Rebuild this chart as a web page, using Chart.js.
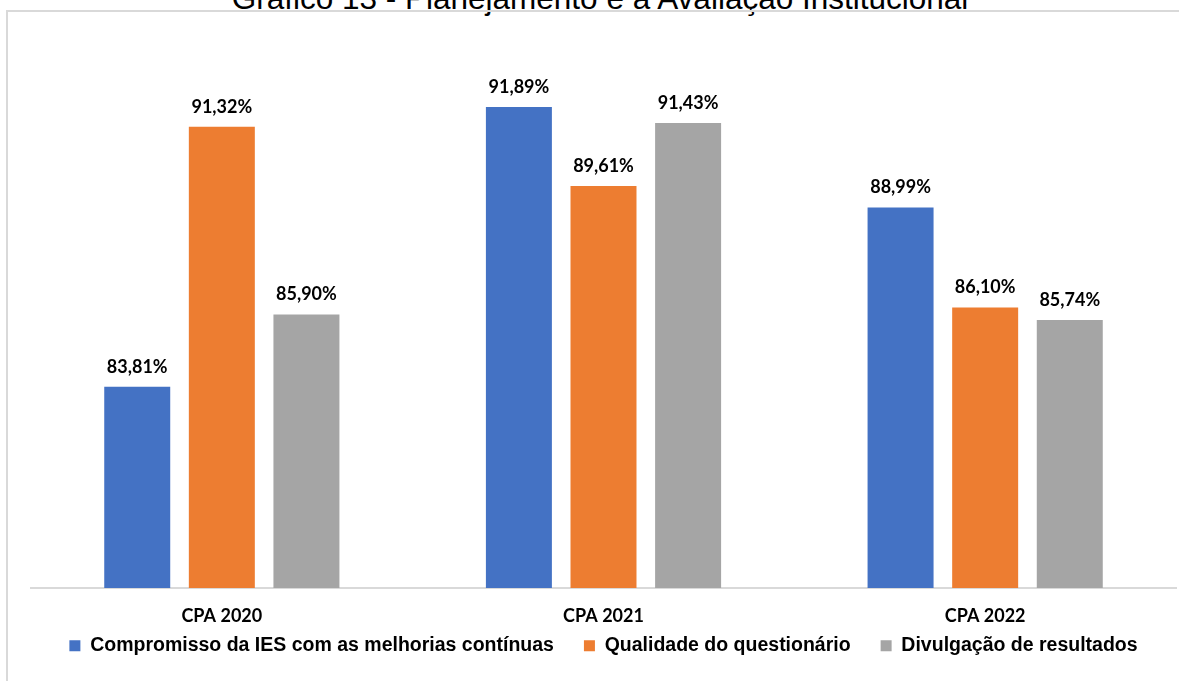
<!DOCTYPE html>
<html>
<head>
<meta charset="utf-8">
<script src="https://cdn.jsdelivr.net/npm/chart.js@4"></script>
<style>
  html, body { margin: 0; padding: 0; background: #fff; overflow: hidden; }
  #wrap { position: relative; width: 1186px; height: 681px; }
  #frame { position: absolute; left: 6px; top: 10px; width: 1171px; height: 700px;
           border-left: 2px solid #d9d9d9; border-top: 2px solid #d9d9d9; }
  #title { position: absolute; left: 7px; width: 1186px; top: -17px; text-align: center;
           font: 31.5px "Liberation Sans", Arial, sans-serif; line-height: 30px; color: #000; }
  canvas { position: absolute; left: 0; top: 0; }
</style>
</head>
<body>
<div id="wrap">
  <div id="title">Gráfico 13 - Planejamento e a Avaliação Institucional</div>
  <div id="frame"></div>
  <canvas id="chart" width="1186" height="681"></canvas>
</div>
<script>
// categories and series
const categories = ["CPA 2020", "CPA 2021", "CPA 2022"];
const compromisso = [83.81, 91.89, 88.99];
const qualidade = [91.32, 89.61, 86.10];
const divulgacao = [85.90, 91.43, 85.74];
const seriesNames = [
  "Compromisso da IES com as melhorias contínuas",
  "Qualidade do questionário",
  "Divulgação de resultados"
];

// value labels above each bar
const barLabels = {
  id: "barLabels",
  afterDatasetsDraw(chart) {
    const ctx = chart.ctx;
    ctx.save();
    ctx.font = "bold 18px Lato, 'Open Sans', sans-serif";
    ctx.fillStyle = "#000";
    ctx.textAlign = "center";
    ctx.textBaseline = "bottom";
    chart.data.datasets.forEach((ds, i) => {
      chart.getDatasetMeta(i).data.forEach((bar, j) => {
        const txt = ds.data[j].toFixed(2).replace(".", ",") + "%";
        ctx.fillText(txt, bar.x, bar.y - 11);
      });
    });
    ctx.restore();
  }
};

// pull the legend up closer to the category labels
const legendShift = {
  id: "legendShift",
  afterLayout(chart) {
    const lg = chart.legend;
    const h = lg.bottom - lg.top;
    lg.top = 606;
    lg.bottom = 606 + h;
    if (lg.adjustHitBoxes) lg.adjustHitBoxes();
  }
};

const ctx = document.getElementById("chart").getContext("2d");
new Chart(ctx, {
  type: "bar",
  data: {
    labels: categories,
    datasets: [
      { label: seriesNames[0], data: compromisso, backgroundColor: "#4472c4" },
      { label: seriesNames[1], data: qualidade, backgroundColor: "#ed7d31" },
      { label: seriesNames[2], data: divulgacao, backgroundColor: "#a5a5a5" }
    ]
  },
  options: {
    responsive: false,
    animation: false,
    categoryPercentage: 0.665,
    barPercentage: 0.78,
    layout: { padding: { left: 31, right: 10, top: 34, bottom: -6.5 } },
    scales: {
      y: { display: false, min: 78, max: 94 },
      x: {
        grid: { display: false },
        border: { color: "#d9d9d9", width: 2 },
        ticks: {
          color: "#000",
          padding: 9,
          font: { family: "Lato, 'Open Sans', sans-serif", size: 18, weight: "bold" }
        },
        afterFit(scale) { scale.height = 40; }
      }
    },
    plugins: {
      legend: {
        position: "bottom",
        labels: {
          color: "#000",
          boxWidth: 11,
          boxHeight: 11,
          padding: 30,
          font: { family: "'Liberation Sans', Arial, sans-serif", size: 19.5, weight: "bold" }
        }
      },
      tooltip: { enabled: false }
    }
  },
  plugins: [barLabels, legendShift]
});
</script>
</body>
</html>
